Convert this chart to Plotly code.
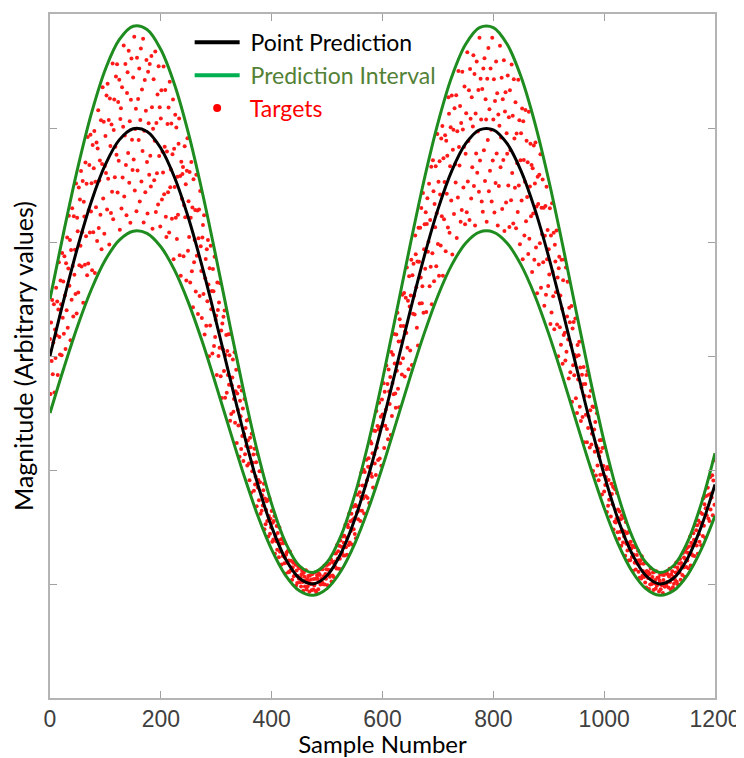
import numpy as np
import plotly.graph_objects as go

# band every 25 samples
band_x = list(range(0, 1201, 25))
point_pred = [0.0, 0.494, 0.957, 1.360, 1.680, 1.896, 1.994, 1.970, 1.823, 1.564,
              1.208, 0.777, 0.298, -0.199, -0.684, -1.127, -1.499, -1.780, -1.950, -1.999,
              -1.925, -1.732, -1.432, -1.043, -0.590, -0.100, 0.396, 0.868, 1.286, 1.624,
              1.862, 1.984, 1.984, 1.862, 1.624, 1.286, 0.868, 0.396, -0.100, -0.590,
              -1.043, -1.432, -1.732, -1.925, -1.999, -1.950, -1.780, -1.499, -1.127]
upper_pi = [0.500, 1.093, 1.648, 2.132, 2.516, 2.775, 2.893, 2.864, 2.688, 2.377,
            1.950, 1.432, 0.858, 0.261, -0.321, -0.852, -1.299, -1.636, -1.840, -1.899,
            -1.810, -1.578, -1.218, -0.752, -0.208, 0.380, 0.975, 1.542, 2.043, 2.449,
            2.734, 2.881, 2.881, 2.734, 2.449, 2.043, 1.542, 0.975, 0.380, -0.208,
            -0.752, -1.218, -1.578, -1.810, -1.899, -1.840, -1.636, -1.299, -0.852]
lower_pi = [-0.500, -0.105, 0.266, 0.588, 0.844, 1.017, 1.095, 1.076, 0.958, 0.751,
            0.466, 0.122, -0.262, -0.659, -1.047, -1.402, -1.699, -1.924, -2.060, -2.099,
            -2.040, -1.886, -1.646, -1.334, -0.972, -0.580, -0.183, 0.194, 0.529, 0.799,
            0.990, 1.087, 1.087, 0.990, 0.799, 0.529, 0.194, -0.183, -0.580, -0.972,
            -1.334, -1.646, -1.886, -2.040, -2.099, -2.060, -1.924, -1.699, -1.402]

# target position inside the band, in tenths of the half width, one per sample
target_pos = [
    3,-7,5,-2,8,-5,0,6,-9,1,-4,7,-1,4,-8,2,9,-3,-6,5,1,-7,8,-2,3,-5,6,0,-8,4,
    -3,7,-6,2,9,-1,5,-9,3,-4,8,0,-7,6,-2,1,-5,9,-8,4,2,-6,7,-3,5,-1,8,-4,0,6,
    -9,3,1,-5,7,-2,4,-7,9,-6,0,5,-3,8,-1,2,-8,6,-4,3,7,-9,1,-2,5,-6,4,8,-5,0,
    2,-4,6,-8,1,9,-3,5,-7,0,3,-1,7,-5,8,-2,4,-9,6,1,-6,3,-4,9,-7,2,5,-3,0,7,
    -1,8,-5,4,-2,6,-9,2,3,-7,5,-4,1,9,-6,0,7,-3,-8,4,6,-2,8,-5,1,-9,3,7,-1,-4,
    5,-3,9,-6,0,2,-8,7,-4,3,-1,6,-7,1,8,-5,4,-2,9,-9,0,5,-6,2,7,-3,-8,6,1,-4,
    7,-2,-5,8,3,-9,1,6,-4,0,9,-7,2,-3,5,-6,8,-1,4,-8,3,6,-5,0,-2,9,-4,1,7,-6,
    -8,1,4,-3,6,-7,9,-2,0,5,-5,2,8,-9,3,-1,7,-4,6,-6,1,-3,5,8,-7,2,-9,4,0,3,
    4,-6,0,7,-1,3,-8,5,9,-4,2,-2,6,-7,1,8,-5,3,-9,7,-3,0,4,-6,9,-1,5,-8,2,6,
    -5,9,2,-1,-7,4,6,-3,8,-8,0,3,-6,5,-2,7,1,-9,4,-4,8,-1,2,-7,6,3,-5,9,-3,0,
    1,-8,7,3,-4,5,-2,9,-6,2,-9,4,0,6,-3,8,-7,1,5,-5,3,-1,7,-2,4,-8,9,-6,0,2,
    6,-4,-1,9,-5,2,7,-8,3,0,-3,6,-9,4,1,-6,8,-2,5,-7,0,9,-4,3,-1,6,-5,2,8,-3,
    -7,5,3,-9,8,-2,1,4,-6,7,-3,0,5,-8,9,-1,2,-4,6,3,-7,8,-5,1,-2,4,7,-9,3,-6,
    0,4,-3,6,-8,1,9,-5,2,-1,7,-6,3,-4,5,8,-9,0,-2,6,-5,4,1,-7,9,-3,2,5,-8,7,
    -2,6,8,-4,0,-9,3,5,-1,7,-6,2,-5,9,-3,4,0,-8,1,5,-4,7,-2,6,-9,3,-6,0,8,-1,
    8,-3,1,-6,4,7,-2,-9,6,3,-5,0,9,-7,2,-4,5,1,-8,6,-1,3,-6,8,0,-5,4,-2,9,-7,
    3,-9,5,2,-7,6,-1,4,-4,8,0,-3,7,-5,1,9,-6,2,-2,5,8,-8,3,-1,6,-4,0,7,-9,4,
    -6,2,-8,7,1,-3,5,-5,9,0,4,-7,6,-2,8,-9,3,-1,7,-4,2,5,-6,9,-3,1,-8,6,4,-5,
    9,-5,4,-1,6,-8,2,7,-3,1,-6,5,-9,3,0,6,-4,8,-2,4,-7,1,9,-5,3,-2,7,-8,5,0,
    -4,7,0,-6,3,5,-9,1,8,-2,6,-4,2,-8,7,0,-3,5,-7,9,-1,4,-5,2,8,-6,1,3,-9,6,
    2,-1,8,-7,5,-3,0,9,-5,4,-8,6,1,-2,3,-9,7,-6,0,5,-3,8,2,-4,-7,6,-1,9,-5,3,
    -9,6,-2,4,1,-5,8,-3,2,7,-7,0,5,-1,9,-4,3,-8,6,1,-6,2,7,-9,4,-2,5,0,-3,8,
    5,0,-6,3,-9,7,2,-4,6,-1,8,-5,-3,9,-7,1,4,-2,5,-8,3,6,-1,0,7,-6,2,-4,8,-9,
    -3,8,4,-7,2,-1,6,-6,0,9,-4,3,-8,5,1,-5,7,-2,8,-9,4,-3,1,6,-7,5,-1,3,-5,9,
    7,-6,1,5,-3,8,-9,2,4,-5,6,0,-2,7,-8,3,-4,9,1,-1,5,-7,3,-6,8,2,-4,0,6,-8,
    -1,3,-7,9,-4,0,5,-8,7,2,-6,4,-3,1,8,-5,6,-9,2,-2,7,-4,0,4,-6,9,-3,5,1,-7,
    4,-8,6,-2,7,-5,3,1,-9,5,-1,8,-6,2,-4,6,0,-7,9,-3,1,5,-8,3,-5,7,-2,4,-9,2,
    -5,1,9,-3,0,6,-7,4,-2,8,-9,3,5,-6,1,-1,7,-4,3,-8,6,0,-5,9,-2,4,-7,8,2,-3,
    6,-7,3,0,-5,9,-2,5,-8,1,4,-3,7,-9,6,2,-6,0,8,-4,5,-1,3,-7,9,-5,1,6,-2,4,
    -8,4,-1,7,-6,3,8,-4,1,-9,5,2,-5,6,-2,9,-7,3,0,7,-3,4,-8,1,5,-6,8,-1,3,-4,
    1,-2,7,-8,4,-6,9,0,-3,6,-7,5,3,-1,8,-5,2,-9,4,6,-4,1,-6,7,0,-8,5,-3,9,-2,
    -6,9,-4,2,8,-1,-7,5,3,-5,0,7,-9,4,-2,6,-3,1,8,-6,2,-8,5,-1,4,7,-5,3,-7,0,
    3,-5,2,6,-9,1,4,-2,7,-7,9,-3,0,5,-6,3,8,-4,-1,6,-9,7,2,-3,5,-8,0,9,-4,1,
    -7,0,5,-4,3,7,-8,6,-1,2,-5,9,-2,1,4,-9,6,-6,3,-3,8,0,-7,5,2,-1,6,-9,7,-5,
    8,-4,-2,9,-6,4,1,-7,5,-3,3,-8,6,0,-5,7,-1,2,-9,8,-2,4,-4,6,-8,1,3,-6,5,2,
    -2,5,-9,1,6,-3,7,-6,0,4,-1,8,-5,3,-8,2,5,-7,9,-4,0,6,-3,8,-6,2,-9,4,1,-1,
    4,-9,3,-5,8,0,-4,2,6,-8,7,-2,1,-6,9,-3,4,-1,5,-7,3,8,-5,0,-2,7,-9,2,6,-4,
    -4,7,-3,8,-1,5,-6,3,9,-2,-8,4,0,6,-7,1,-5,8,-3,2,9,-6,4,-9,1,5,-2,7,-8,3,
    0,-6,8,-2,4,-9,2,6,-4,7,-1,3,-7,5,0,9,-8,4,-3,1,-5,6,2,-7,8,-1,4,-4,5,-9,
    6,-1,-5,3,7,-8,1,4,-6,9,-3,5,-9,2,6,-2,0,7,-5,3,-7,8,-4,1,-1,6,-8,3,9,-6,
]

x_ticks = [0, 200, 400, 600, 800, 1000, 1200]

samples = np.arange(len(target_pos))
mid = np.interp(samples, band_x, point_pred)
half = np.interp(samples, band_x, upper_pi) - mid
targets = mid + np.array(target_pos) / 10.0 * half

curve_green = "#1f8c1f"
fig = go.Figure()

fig.add_trace(go.Scatter(x=samples, y=targets, mode="markers",
                         marker=dict(color="#ff1a1a", size=4), showlegend=False))
for band in (upper_pi, lower_pi):
    fig.add_trace(go.Scatter(x=band_x, y=band, mode="lines", line_shape="spline",
                             line=dict(color=curve_green, width=3), showlegend=False))
fig.add_trace(go.Scatter(x=band_x, y=point_pred, mode="lines", line_shape="spline",
                         line=dict(color="black", width=3), showlegend=False))

# legend entries
fig.add_trace(go.Scatter(x=[None], y=[None], mode="lines", line=dict(color="black", width=4),
                         name="\u00a0<span style='color:black'>Point Prediction</span>"))
fig.add_trace(go.Scatter(x=[None], y=[None], mode="lines", line=dict(color="#00b050", width=4),
                         name="\u00a0<span style='color:#538135'>Prediction Interval</span>"))
fig.add_trace(go.Scatter(x=[None], y=[None], mode="markers", marker=dict(color="#ff0000", size=8),
                         name="\u00a0<span style='color:#ff0000'>Targets</span>"))

# page body adds an 8px offset, so the figure is a bit smaller than the window
fig.update_layout(
    width=736, height=750,
    margin=dict(l=42, r=29, t=6, b=60),
    paper_bgcolor="white", plot_bgcolor="white",
    font=dict(family="Lato", size=24, color="black"),
    legend=dict(x=0.21, y=0.99, xanchor="left", yanchor="top", bgcolor="rgba(0,0,0,0)",
                itemwidth=45, font=dict(family="Lato", size=23), tracegroupgap=0),
)
fig.update_xaxes(
    range=[0, 1200], tickvals=x_ticks, ticks="inside", ticklen=7, tickcolor="#a0a0a0",
    showline=True, linecolor="#b4b4b4", linewidth=1.5, mirror="ticks", showgrid=False,
    zeroline=False, tickfont=dict(family="Liberation Sans", size=23, color="#404040"),
    title=dict(text="Sample Number", standoff=14, font=dict(family="Lato", size=24)),
    automargin=False,
)
fig.update_yaxes(
    range=[-3, 3], tickvals=[-2, -1, 0, 1, 2], showticklabels=False, ticks="inside",
    ticklen=7, tickcolor="#a0a0a0", showline=True, linecolor="#b4b4b4", linewidth=1.5,
    mirror="ticks", showgrid=False, zeroline=False,
    title=dict(text="Magnitude (Arbitrary values)", standoff=10, font=dict(family="Lato", size=25)),
    automargin=False,
)

fig.write_html("out.html")
